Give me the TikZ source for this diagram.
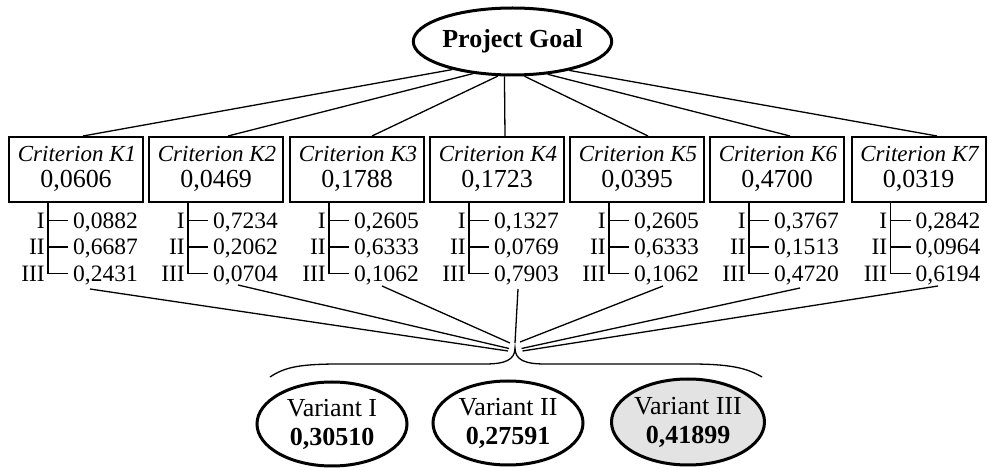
\documentclass[tikz,border=0pt]{standalone}
\usepackage{fontspec}
\setmainfont{Liberation Serif}
\usetikzlibrary{shapes.geometric,calc}
\newcommand\CritBlock[8]{%
  % #1 index, #2 centre x, #3 weight, #4-#6 sub values, #7 start angle on goal, #8 x offset on box top
  \node[crit] (k#1) at (#2,169.5) {};
  \node[crittext] (n#1) at (#2+1,162) {Criterion K#1};
  \node[critval] (w#1) at (#2,188) {#3};
  \coordinate (v#1) at ($(k#1.south west)+(40,0)$);
  \coordinate (t#1) at ($(k#1.north)+(#8,0)$);
  \draw[conn] (goal.#7) -- (t#1);
  \draw[tree] (v#1) |- ($(v#1)+(20,70.5)$);
  \draw[tree] ($(v#1)+(0,17.5)$) -- ++(20,0);
  \draw[tree] ($(v#1)+(0,44)$) -- ++(20,0);
  \node[sublab] (la#1) at ($(v#1)+(-3,25.5)$) {I};
  \node[sublab] (lb#1) at ($(v#1)+(-3,52)$) {II};
  \node[sublab] (lc#1) at ($(v#1)+(-3,78.5)$) {III};
  \node[subval] (a#1) at ($(v#1)+(25,25.5)$) {#4};
  \node[subval] (b#1) at ($(v#1)+(25,52)$) {#5};
  \node[subval] (c#1) at ($(v#1)+(25,78.5)$) {#6};
}
\begin{document}
\begin{tikzpicture}[x=1pt,y=-1pt,
  goal/.style={ellipse,draw,line width=3pt,minimum width=191pt,minimum height=67pt,inner sep=0pt,font=\fontsize{26}{30}\selectfont\bfseries},
  crit/.style={rectangle,draw,line width=2pt,minimum width=134pt,minimum height=65pt,inner sep=0pt},
  crittext/.style={anchor=base,inner sep=0pt,font=\fontsize{23}{26}\selectfont\itshape},
  critval/.style={anchor=base,inner sep=0pt,font=\fontsize{26}{26}\selectfont},
  subval/.style={anchor=base west,inner sep=0pt,font=\fontsize{23.5}{26}\selectfont},
  sublab/.style={anchor=base east,inner sep=0pt,font=\fontsize{23.5}{26}\selectfont},
  conn/.style={line width=1.3pt},
  tree/.style={line width=1.5pt},
  variant/.style={ellipse,draw,line width=3pt,minimum width=150pt,minimum height=84pt,inner sep=0pt,align=center,font=\fontsize{26}{30}\selectfont}
]
\useasboundingbox (0,0) rectangle (989,470);
\node[goal] (goal) at (512.5,41.5) {Project Goal};

\CritBlock{1}{76}{0,0606}{0,0882}{0,6687}{0,2431}{205}{7}
\CritBlock{2}{216}{0,0469}{0,7234}{0,2062}{0,0704}{219}{12}
\CritBlock{3}{357}{0,1788}{0,2605}{0,6333}{0,1062}{247}{15}
\CritBlock{4}{497}{0,1723}{0,1327}{0,0769}{0,7903}{257}{8}
\CritBlock{5}{637}{0,0395}{0,2605}{0,6333}{0,1062}{289}{11}
\CritBlock{6}{777}{0,4700}{0,3767}{0,1513}{0,4720}{317}{13}
\CritBlock{7}{918.5}{0,0319}{0,2842}{0,0964}{0,6194}{333}{18.5}

% lines to the brace
\coordinate (s1) at (90,289);   \coordinate (e1) at (508,351);
\coordinate (s2) at (238,285);  \coordinate (e2) at (509,348.5);
\coordinate (s3) at (382,286);  \coordinate (e3) at (510,343);
\coordinate (s4) at (518,289);  \coordinate (e4) at (515,343);
\coordinate (s5) at (663,286);  \coordinate (e5) at (520,342);
\coordinate (s6) at (800,288);  \coordinate (e6) at (521.5,348.5);
\coordinate (s7) at (938,286);  \coordinate (e7) at (522.5,351);
\foreach \k in {1,...,7} {\draw[conn] (s\k) -- (e\k);}

% brace
\coordinate (tip) at (515,348);
\draw[conn] (270,377) .. controls (285,367) and (300,364) .. (340,364) -- (485,364)
  .. controls (505,364) and (515,360) .. (tip)
  .. controls (515,360) and (525,364) .. (545,364) -- (690,364)
  .. controls (730,364) and (747,368) .. (762,377);

% variants
\node[variant] (var1) at (332,424) {Variant I\\[-1pt]{\bfseries 0,30510}};
\node[variant] (var2) at (508,423) {Variant II\\[-1pt]{\bfseries 0,27591}};
\node[variant,fill=gray!22,minimum width=153pt,minimum height=86pt] (var3) at (688,422) {Variant III\\[-1pt]{\bfseries 0,41899}};
\end{tikzpicture}
\end{document}
